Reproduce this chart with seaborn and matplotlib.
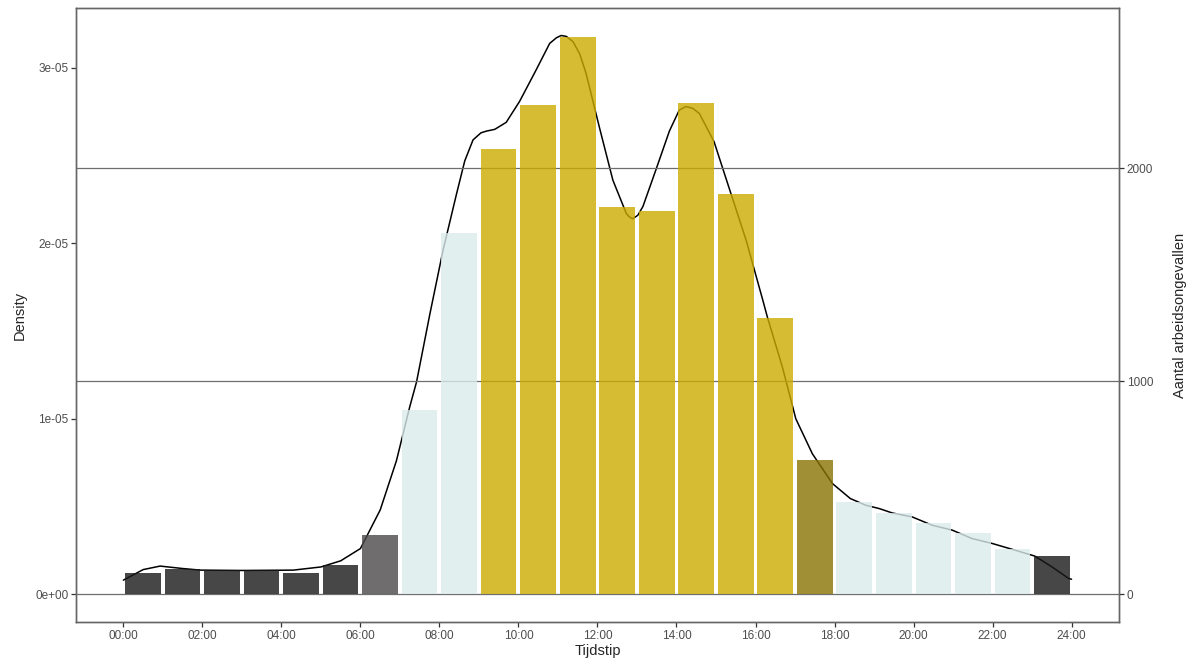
import numpy as np
import pandas as pd
import seaborn as sns
import matplotlib.pyplot as plt

# Accidents per hour of the day (right axis)
hours = list(range(24))
counts = [97, 116, 113, 113, 97, 139, 278, 864, 1695, 2089, 2300, 2617,
          1817, 1798, 2307, 1881, 1296, 629, 432, 382, 332, 285, 214, 178]
periods = ['nacht'] * 6 + ['ochtend'] + ['spits'] * 2 + ['dag'] * 8 + ['avondspits'] + ['spits'] * 5 + ['nacht']
palette = {'nacht': '#191919', 'ochtend': '#4b4848', 'spits': '#dbebec',
           'dag': '#ccab00', 'avondspits': '#897302'}

# Density curve (left axis)
curve_hours = [0.0, 0.5, 0.93, 1.5, 1.95, 3.0, 4.3, 5.0, 5.5, 6.0, 6.5, 6.91,
               7.25, 7.42, 7.76, 8.09, 8.43, 8.64, 8.85, 9.05, 9.19, 9.4, 9.69, 10.03,
               10.45, 10.79, 10.96, 11.08, 11.21, 11.38, 11.55, 11.71, 12.05, 12.39,
               12.73, 12.81, 12.89, 13.02, 13.15, 13.48, 13.82, 14.07, 14.24, 14.41,
               14.58, 14.95, 15.34, 15.76, 16.18, 16.3, 16.68, 17.02, 17.44, 17.95,
               18.4, 18.79, 19.13, 19.46, 19.97, 20.47, 20.98, 21.48, 21.99, 22.58,
               23.07, 23.5, 23.93, 24.0]
curve_density = [0.8, 1.4, 1.6, 1.46, 1.37, 1.35, 1.37, 1.55, 1.9, 2.6, 4.8, 7.6,
                 10.7, 12.1, 16.0, 19.6, 22.8, 24.7, 25.9, 26.3, 26.4, 26.5, 26.9, 28.1,
                 29.9, 31.4, 31.72, 31.85, 31.8, 31.5, 30.8, 29.7, 26.6, 23.6,
                 21.7, 21.5, 21.4, 21.6, 22.1, 24.2, 26.4, 27.6, 27.8, 27.7,
                 27.4, 25.8, 23.1, 20.2, 16.8, 15.8, 12.95, 10.0, 8.0, 6.3,
                 5.45, 5.07, 4.88, 4.63, 4.4, 3.93, 3.65, 3.17, 2.89, 2.5,
                 2.17, 1.56, 0.89, 0.85]
curve_density = [d * 1e-06 for d in curve_density]

xticks = list(range(0, 25, 2))
xticklabels = ['%02d:00' % h for h in xticks]
yticks = [0, 1e-05, 2e-05, 3e-05]
yticklabels = ['0e+00', '1e-05', '2e-05', '3e-05']
right_ticks = [0, 1000, 2000]

sns.set_style('ticks')
plt.rcParams['font.family'] = ['Liberation Sans', 'DejaVu Sans']

fig = plt.figure(figsize=(11.97, 6.59), dpi=100)
ax = fig.add_axes([0.0635, 0.0561, 0.8713, 0.9318])
ax2 = ax.twinx()

# density line underneath the bars
sns.lineplot(x=curve_hours, y=curve_density, ax=ax, color='black', linewidth=1.1)

df = pd.DataFrame({'mid': np.array(hours) + 0.5, 'count': counts, 'period': periods})
for v in right_ticks:
    ax2.axhline(v, color='#6e6e6e', lw=0.9, zorder=1)
sns.barplot(data=df, x='mid', y='count', hue='period', palette=palette,
            native_scale=True, dodge=False, errorbar=None, alpha=0.8,
            saturation=1, width=0.9, linewidth=0, legend=False, ax=ax2, zorder=2)

ax.set_xlim(-1.2, 25.2)
ax.set_ylim(-1.59e-06, 3.342e-05)
ax2.set_ylim(-1.59e-06 * 8.24e7, 3.342e-05 * 8.24e7)

ax.set_xticks(xticks)
ax.set_xticklabels(xticklabels)
ax.set_yticks(yticks)
ax.set_yticklabels(yticklabels)
ax2.set_yticks(right_ticks)
ax2.set_yticklabels([str(t) for t in right_ticks])

for a in (ax, ax2):
    a.tick_params(axis='both', length=3.5, width=0.9, color='#333333',
                  labelcolor='#4d4d4d', labelsize=8.5, pad=2)
    for s in a.spines.values():
        s.set_color('#666666')
        s.set_linewidth(1.0)

ax.set_xlabel('Tijdstip', fontsize=10.5, labelpad=2)
ax.set_ylabel('Density', fontsize=10.5, labelpad=6)
ax2.set_xlabel('')
ax2.set_ylabel('Aantal arbeidsongevallen', fontsize=10.5, labelpad=14)

fig.savefig('out.png', dpi=100)
